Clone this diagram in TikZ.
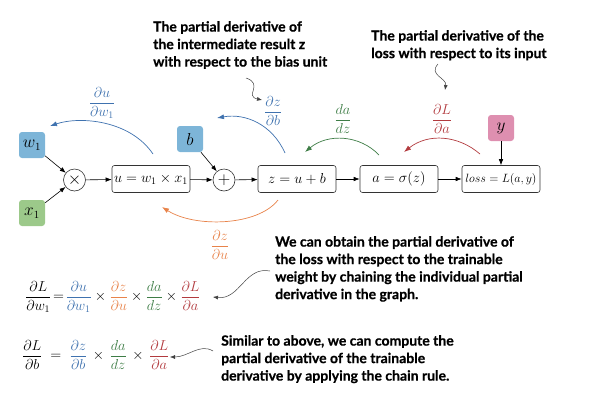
\documentclass[tikz,border=0pt]{standalone}
\usepackage{amsmath}
\usepackage{fontspec}
\setmainfont{Liberation Serif}
\newfontfamily\annot{Lato}[BoldFeatures={FakeBold=0.6}]
\usetikzlibrary{arrows.meta}
\definecolor{bfill}{HTML}{7DB5D8}
\definecolor{btxt}{HTML}{3F72AF}
\definecolor{gfill}{HTML}{9CC98A}
\definecolor{gtxt}{HTML}{3E7D46}
\definecolor{rtxt}{HTML}{B23A3E}
\definecolor{otxt}{HTML}{E8834A}
\definecolor{pfill}{HTML}{DE8FB0}
\begin{document}
\begin{tikzpicture}[x=1pt,y=-1pt,
 box/.style={draw=black!80, rounded corners=2.5pt, line width=0.6pt, minimum width=78pt, minimum height=27pt, inner sep=0pt, font=\fontsize{14}{14}\selectfont},
 var/.style={rounded corners=3pt, minimum size=26pt, inner sep=0pt, font=\fontsize{16}{16}\selectfont},
 op/.style={circle, draw=black!80, line width=0.6pt, minimum size=22pt, inner sep=0pt, font=\fontsize{16}{16}\selectfont},
 flow/.style={-{Latex[length=6pt,width=4.5pt]}, line width=0.6pt},
 back/.style={-{Latex[length=7pt,width=5pt]}, line width=0.7pt},
 note/.style={font=\annot\bfseries\fontsize{14}{17.5}\selectfont, align=left, anchor=north west, inner sep=0pt},
 squig/.style={-{Latex[length=5pt,width=4pt]}, line width=0.5pt, black!75},
 frac/.style={inner sep=0pt, font=\fontsize{14}{14}\selectfont},
 eq/.style={inner sep=0pt, anchor=west, font=\fontsize{14}{14}\selectfont}
]
\useasboundingbox (0,0) rectangle (600,400);

% variables
\node[var, fill=bfill] (w) at (32,145) {$w_1$};
\node[var, fill=gfill] (x) at (32,213) {$x_1$};
\node[var, fill=bfill] (b) at (190,139) {$b$};
\node[var, fill=pfill] (y) at (501,128) {$y$};

% operators and boxes
\node[op] (mul) at (74.5,180) {$\times$};
\node[box] (u) at (151,179) {$u = w_1 \times x_1$};
\node[op] (add) at (224,180) {$+$};
\node[box] (z) at (297,179) {$z = u + b$};
\node[box] (a) at (399,179) {$a = \sigma(z)$};
\node[box, font=\fontsize{12.5}{12.5}\selectfont] (loss) at (501,179) {$loss = L(a,y)$};

% forward edges
\draw[flow] (w) -- (mul);
\draw[flow] (x) -- (mul);
\draw[flow] (mul) -- (u);
\draw[flow] (u) -- (add);
\draw[flow] (b) -- (add);
\draw[flow] (add) -- (z);
\draw[flow] (z) -- (a);
\draw[flow] (a) -- (loss);
\draw[flow] (y) -- (loss);

% derivative labels
\node[frac, text=btxt] (dudw) at (102,103) {$\dfrac{\partial u}{\partial w_1}$};
\node[frac, text=btxt] (dzdb) at (273,111) {$\dfrac{\partial z}{\partial b}$};
\node[frac, text=gtxt] (dadz) at (343,119) {$\dfrac{da}{dz}$};
\node[frac, text=rtxt] (dLda) at (442,119) {$\dfrac{\partial L}{\partial a}$};
\node[frac, text=otxt] (dzdu) at (220,245) {$\dfrac{\partial z}{\partial u}$};

% backward curved arrows
\coordinate (b1s) at (153,154); \coordinate (b1e) at (50,126);
\coordinate (b2s) at (285,153); \coordinate (b2e) at (217,118);
\coordinate (g1s) at (379,155); \coordinate (g1e) at (305,152);
\coordinate (r1s) at (480,154); \coordinate (r1e) at (404,152);
\coordinate (o1s) at (278,200); \coordinate (o1e) at (162,207);
\draw[back, btxt] (b1s) .. controls (130,120) and (80,116) .. (b1e);
\draw[back, btxt] (b2s) .. controls (272,124) and (245,113) .. (b2e);
\draw[back, gtxt] (g1s) .. controls (360,135) and (328,133) .. (g1e);
\draw[back, rtxt] (r1s) .. controls (458,135) and (428,133) .. (r1e);
\draw[back, otxt] (o1s) .. controls (258,226) and (195,228) .. (o1e);

% notes
\node[note] (n1) at (153,21) {The partial derivative of\\the intermediate result z\\with respect to the bias unit};
\node[note] (n2) at (371,30) {The partial derivative of the\\loss with respect to its input};
\node[note] (n3) at (275,236) {We can obtain the partial derivative of\\the loss with respect to the trainable\\weight by chaining the individual partial\\derivative in the graph.};
\node[note] (n4) at (221,335) {Similar to above, we can compute the\\partial derivative of the trainable\\derivative by applying the chain rule.};

% equations
\node[eq] (e1) at (25,297) {$\dfrac{\partial L}{\partial w_1}\!=\!{\color{btxt}\dfrac{\partial u}{\partial w_1}}\times{\color{otxt}\dfrac{\partial z}{\partial u}}\times{\color{gtxt}\dfrac{da}{dz}}\times{\color{rtxt}\dfrac{\partial L}{\partial a}}$};
\node[eq] (e2) at (22,355) {$\dfrac{\partial L}{\partial b} \;=\; {\color{btxt}\dfrac{\partial z}{\partial b}}\,\times\,{\color{gtxt}\dfrac{da}{dz}}\,\times\,{\color{rtxt}\dfrac{\partial L}{\partial a}}$};

% squiggle pointers
\coordinate (s1s) at (246,78); \coordinate (s1e) at (262,100);
\coordinate (s2s) at (438,64); \coordinate (s2e) at (445,90);
\coordinate (s3s) at (270,271); \coordinate (s3e) at (213,297);
\coordinate (s4s) at (213,351); \coordinate (s4e) at (170,357);
\draw[squig] (s1s) .. controls (264,84) and (244,96) .. (s1e);
\draw[squig] (s2s) .. controls (428,75) and (447,78) .. (s2e);
\draw[squig] (s3s) .. controls (245,266) and (240,300) .. (s3e);
\draw[squig] (s4s) .. controls (200,343) and (188,357) .. (s4e);
\end{tikzpicture}
\end{document}
